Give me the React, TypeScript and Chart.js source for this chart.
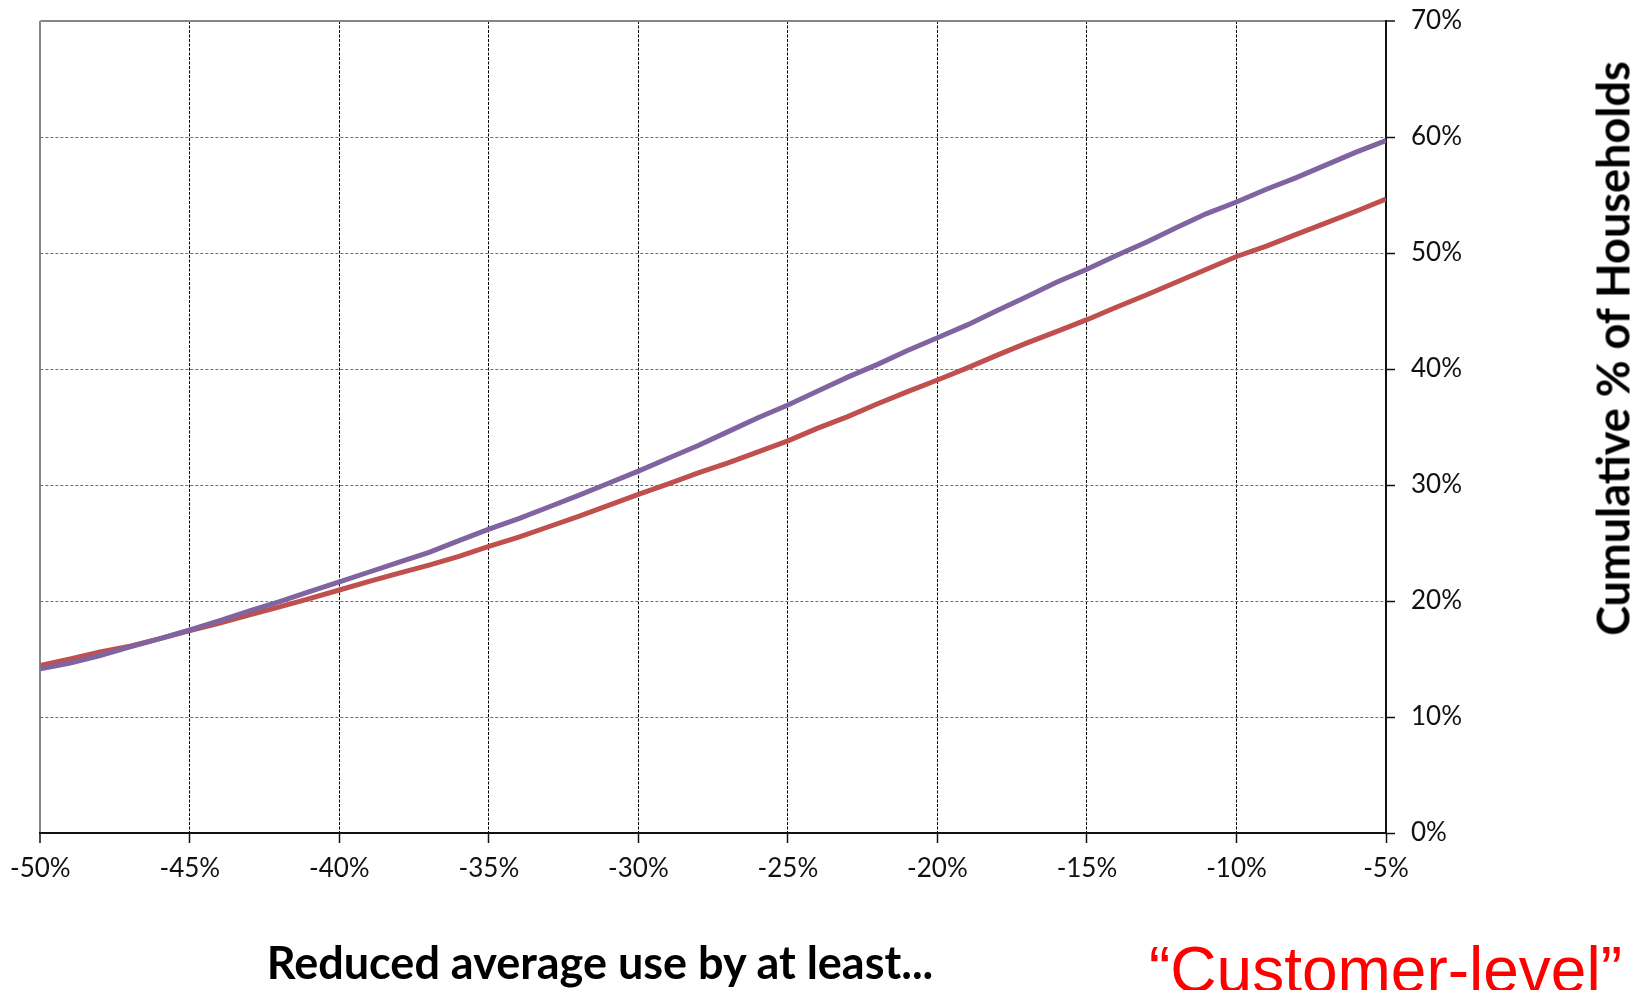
import React, { useEffect, useRef } from "react";
import { Chart, registerables } from "chart.js";

Chart.register(...registerables);

// Reduction in average use (x, %)
const reductionPct = [
  -50, -49, -48, -47, -46, -45, -44, -43, -42, -41,
  -40, -39, -38, -37, -36, -35, -34, -33, -32, -31,
  -30, -29, -28, -27, -26, -25, -24, -23, -22, -21,
  -20, -19, -18, -17, -16, -15, -14, -13, -12, -11,
  -10, -9, -8, -7, -6, -5,
];

// Purple series: cumulative % of households
const purpleSeries = [
  14.15, 14.65, 15.3, 16.05, 16.75, 17.5, 18.3, 19.15, 19.95, 20.8,
  21.65, 22.5, 23.35, 24.2, 25.2, 26.2, 27.1, 28.1, 29.1, 30.15,
  31.2, 32.3, 33.4, 34.6, 35.8, 36.9, 38.1, 39.3, 40.4, 41.6,
  42.7, 43.8, 45.05, 46.25, 47.5, 48.6, 49.8, 50.95, 52.2, 53.4,
  54.4, 55.5, 56.5, 57.6, 58.7, 59.7,
];

// Red series: cumulative % of households
const redSeries = [
  14.45, 15.0, 15.6, 16.1, 16.75, 17.45, 18.1, 18.8, 19.5, 20.2,
  20.95, 21.7, 22.4, 23.1, 23.85, 24.7, 25.5, 26.4, 27.3, 28.25,
  29.2, 30.1, 31.05, 31.9, 32.85, 33.8, 34.9, 35.9, 37.0, 38.05,
  39.05, 40.1, 41.2, 42.25, 43.25, 44.25, 45.35, 46.4, 47.5, 48.6,
  49.7, 50.6, 51.6, 52.6, 53.6, 54.65,
];

const xTitle = "Reduced average use by at least...";
const yTitle = "Cumulative % of Households";
const noteText = "\u201CCustomer-level\u201D";

const W = 1648;
const H = 990;

export default function App() {
  const canvasRef = useRef<HTMLCanvasElement | null>(null);

  useEffect(() => {
    const canvas = canvasRef.current;
    if (!canvas) return;
    const tickFont = { family: "Lato", size: 26 };
    const chart = new Chart(canvas, {
      type: "line",
      data: {
        datasets: [
          {
            label: "Purple",
            data: reductionPct.map((x, i) => ({ x, y: purpleSeries[i] })),
            borderColor: "#8064A2",
            backgroundColor: "#8064A2",
            borderWidth: 5,
            pointRadius: 0,
            tension: 0,
          },
          {
            label: "Red",
            data: reductionPct.map((x, i) => ({ x, y: redSeries[i] })),
            borderColor: "#C0504D",
            backgroundColor: "#C0504D",
            borderWidth: 5,
            pointRadius: 0,
            tension: 0,
          },
        ],
      },
      options: {
        animation: false,
        responsive: false,
        devicePixelRatio: 1,
        layout: { autoPadding: false, padding: { left: 40, top: 21, right: 0, bottom: 0 } },
        plugins: {
          legend: { display: false },
          tooltip: { enabled: false },
        },
        scales: {
          x: {
            type: "linear",
            position: "bottom",
            min: -50,
            max: -5,
            afterFit: (scale: any) => {
              scale.height = 157;
            },
            ticks: {
              stepSize: 5,
              padding: 10,
              maxRotation: 0,
              autoSkip: false,
              font: tickFont,
              color: "#111111",
              callback: (v: any) => `${v}%`,
            },
            grid: {
              color: (c: any) =>
                c.tick && c.tick.value === -50
                  ? "#868686"
                  : c.tick && c.tick.value === -5
                  ? "rgba(0,0,0,0)"
                  : "#000000",
              lineWidth: (c: any) => (c.tick && c.tick.value === -50 ? 2 : 1),
              tickColor: "#111111",
              tickWidth: 1.5,
              tickLength: 10,
            },
            border: {
              display: true,
              color: "#111111",
              width: 2,
              dash: (c: any) => (c.tick && c.tick.value === -50 ? [] : [3, 1.5]),
            },
          },
          y: {
            type: "linear",
            position: "right",
            min: 0,
            max: 70,
            afterFit: (scale: any) => {
              scale.width = 262;
              scale.paddingTop = 0;
              scale.paddingBottom = 0;
            },
            ticks: {
              stepSize: 10,
              padding: 16,
              font: tickFont,
              color: "#111111",
              callback: (v: any) => `${v}%`,
            },
            grid: {
              color: (c: any) =>
                c.tick && c.tick.value === 70
                  ? "#868686"
                  : c.tick && c.tick.value === 0
                  ? "rgba(0,0,0,0)"
                  : "#6e6e6e",
              lineWidth: (c: any) => (c.tick && c.tick.value === 70 ? 2 : 1),
              tickColor: "#111111",
              tickWidth: 1.5,
              tickLength: 9,
            },
            border: {
              display: true,
              color: "#111111",
              width: 2,
              dash: (c: any) => (c.tick && c.tick.value === 70 ? [] : [3, 2]),
            },
          },
        },
      },
    } as any);
    return () => chart.destroy();
  }, []);

  return (
    <div
      style={{
        position: "absolute",
        left: 0,
        top: 0,
        width: W,
        height: H,
        overflow: "hidden",
        background: "#ffffff",
      }}
    >
      <canvas ref={canvasRef} width={W} height={H} style={{ display: "block", width: W, height: H }} />
      <div
        style={{
          position: "absolute",
          left: 250,
          width: 700,
          top: 940,
          textAlign: "center",
          fontFamily: "Lato",
          fontWeight: 700,
          fontSize: 45,
          lineHeight: "45px",
          color: "#000",
          whiteSpace: "nowrap",
        }}
      >
        {xTitle}
      </div>
      <div
        style={{
          position: "absolute",
          left: 1612.5 - 350,
          top: 348 - 22.5,
          width: 700,
          height: 45,
          textAlign: "center",
          fontFamily: "Lato",
          fontWeight: 700,
          fontSize: 45,
          lineHeight: "45px",
          color: "#000",
          whiteSpace: "nowrap",
          transform: "rotate(-90deg)",
          transformOrigin: "center center",
        }}
      >
        {yTitle}
      </div>
      <div
        style={{
          position: "absolute",
          left: 1149,
          top: 938,
          fontFamily: "'Liberation Sans', Arial, sans-serif",
          fontSize: 64,
          lineHeight: "64px",
          color: "#ff0000",
          whiteSpace: "nowrap",
        }}
      >
        {noteText}
      </div>
    </div>
  );
}
